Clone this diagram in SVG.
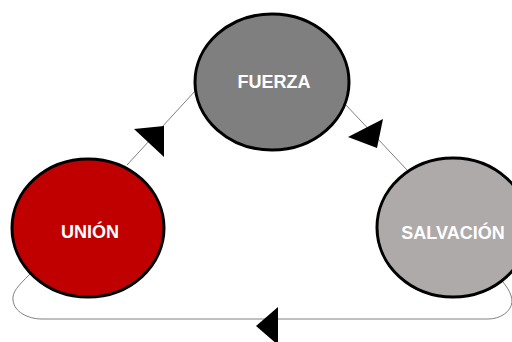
<svg xmlns="http://www.w3.org/2000/svg" width="512" height="342" viewBox="0 0 512 342">
<style>
.node{stroke:#000;stroke-width:3}
.lbl{font-family:"Liberation Sans",Arial,sans-serif;font-weight:bold;font-size:18px;fill:#fff;text-anchor:middle}
.conn{fill:none;stroke:#808080;stroke-width:1}
.head{fill:#000}
</style>
<rect width="512" height="342" fill="#fff"/>
<g id="connectors">
<line class="conn" x1="127" y1="165" x2="196" y2="90"/>
<polygon class="head" points="134,129 164,126 164,157"/>
<line class="conn" x1="345" y1="104" x2="408" y2="171"/>
<polygon class="head" points="348,137 383,119 377,148"/>
<path class="conn" stroke="#707070" d="M 30 274 C 18 286, 12 292, 13 300 C 14 312, 28 319, 42 319 L 488 319 C 500 319, 511 312, 512 302 C 512 292, 505 285, 500 278"/>
<polygon class="head" points="256,326 278,307 278,345"/>
</g>
<g id="fuerza">
<ellipse class="node" cx="272" cy="82" rx="77" ry="68" fill="#7f7f7f"/>
<text class="lbl" x="274" y="88">FUERZA</text>
</g>
<g id="salvacion">
<ellipse class="node" cx="453" cy="227.5" rx="76" ry="69.5" fill="#aeaaaa"/>
<text class="lbl" x="453" y="239">SALVACIÓN</text>
</g>
<g id="union">
<ellipse class="node" cx="88" cy="228" rx="76" ry="69" fill="#c00000"/>
<text class="lbl" x="90" y="238">UNIÓN</text>
</g>
</svg>
